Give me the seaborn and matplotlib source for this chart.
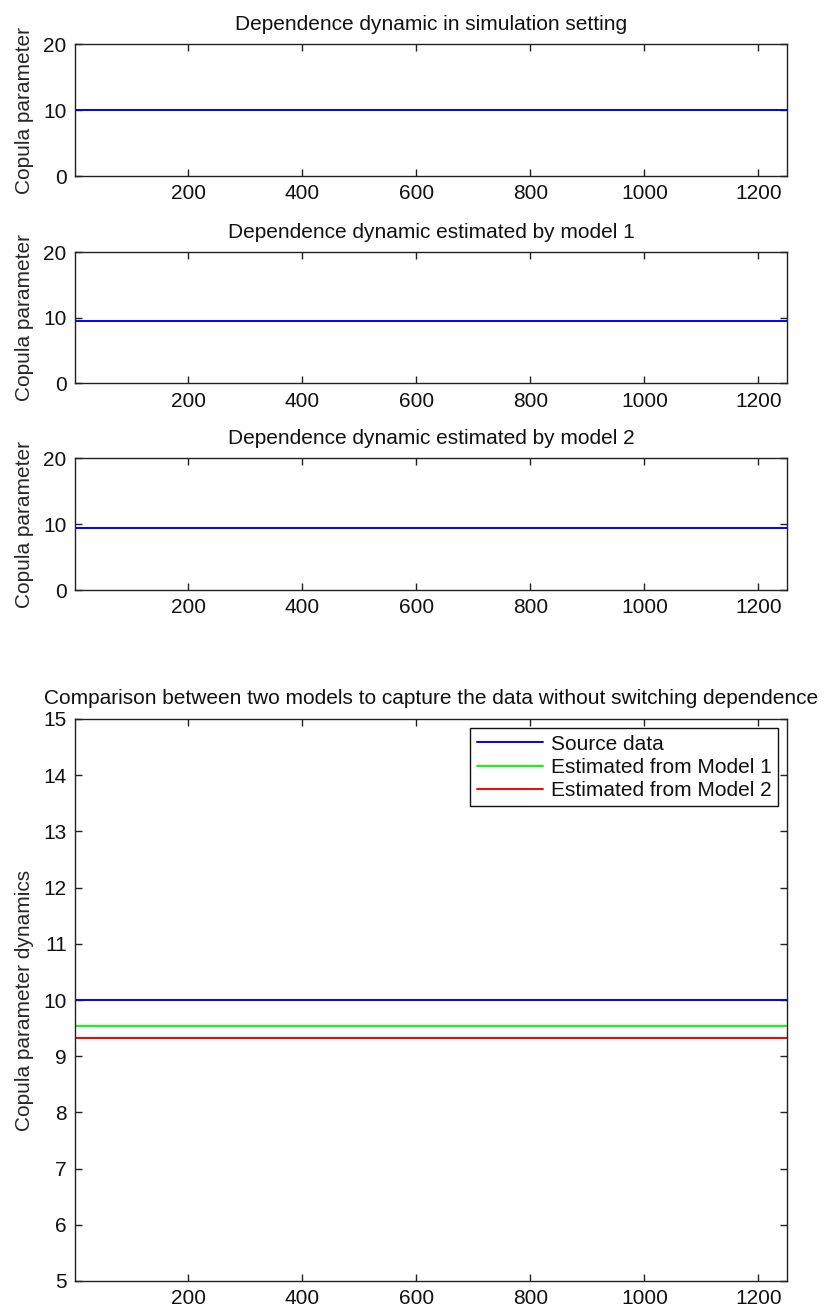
import numpy as np
import pandas as pd
import matplotlib
matplotlib.use("Agg")
import matplotlib.pyplot as plt
import seaborn as sns

# ---- data ----
x_range = [1, 1250]
source_level = [10.0, 10.0]
model1_level = [9.53, 9.53]
model2_level = [9.33, 9.33]

top_titles = ["Dependence dynamic in simulation setting",
              "Dependence dynamic estimated by model 1",
              "Dependence dynamic estimated by model 2"]
top_series = [source_level, model1_level, model2_level]
top_yticks = [0, 10, 20]
xticks = [200, 400, 600, 800, 1000, 1200]
bottom_yticks = [5, 6, 7, 8, 9, 10, 11, 12, 13, 14, 15]
legend_labels = ["Source data", "Estimated from Model 1", "Estimated from Model 2"]
bottom_title = "Comparison between two models to capture the data without switching dependence"

FS = 15

sns.set_style("ticks")
plt.rcParams['font.family'] = ['Liberation Sans', 'DejaVu Sans']
plt.rcParams['font.size'] = FS
plt.rcParams['axes.linewidth'] = 1.0
plt.rcParams['xtick.direction'] = 'in'
plt.rcParams['ytick.direction'] = 'in'
plt.rcParams['xtick.major.size'] = 5
plt.rcParams['ytick.major.size'] = 5
plt.rcParams['text.color'] = '#111111'

W, H = 827, 1310
fig = plt.figure(figsize=(W / 100, H / 100), dpi=100)

def add_axes(left, right, top, bottom):
    return fig.add_axes([left / W, 1 - bottom / H, (right - left) / W, (bottom - top) / H])

def style_ax(ax):
    for s in ax.spines.values():
        s.set_visible(True)
        s.set_color('#222222')
    ax.tick_params(which='both', top=True, right=True, labeltop=False, labelright=False,
                   colors='#222222', labelcolor='#111111', labelsize=FS, pad=6, width=1)
    ax.grid(False)

top_boxes = [(44, 176), (252, 383.5), (458, 590)]
for (t, b), title, vals in zip(top_boxes, top_titles, top_series):
    ax = add_axes(75, 787, t, b)
    df = pd.DataFrame({"x": x_range, "y": vals})
    sns.lineplot(data=df, x="x", y="y", ax=ax, color="#0000ff", linewidth=1.4)
    ax.set_xlim(x_range[0], x_range[1])
    ax.set_ylim(0, 20)
    ax.set_yticks(top_yticks)
    ax.set_xticks(xticks)
    ax.set_xlabel("")
    ax.set_ylabel("Copula parameter", fontsize=FS, labelpad=7)
    ax.set_title(title, fontsize=FS, pad=10)
    style_ax(ax)

ax4 = add_axes(75, 787, 719, 1281)
long_df = pd.DataFrame({
    "x": x_range * 3,
    "y": source_level + model1_level + model2_level,
    "series": [legend_labels[0]] * 2 + [legend_labels[1]] * 2 + [legend_labels[2]] * 2,
})
sns.lineplot(data=long_df, x="x", y="y", hue="series", hue_order=legend_labels,
             palette=["#0000ff", "#00ff00", "#ff0000"], linewidth=1.4, ax=ax4)
ax4.set_xlim(x_range[0], x_range[1])
ax4.set_ylim(5, 15)
ax4.set_yticks(bottom_yticks)
ax4.set_xticks(xticks)
ax4.set_xlabel("")
ax4.set_ylabel("Copula parameter dynamics", fontsize=FS, labelpad=7)
ax4.set_title(bottom_title, fontsize=FS, pad=11)
style_ax(ax4)
leg = ax4.legend(loc="upper right", frameon=True, fancybox=False, shadow=False,
                 fontsize=FS, borderaxespad=0.45, handlelength=3.2, handletextpad=0.35,
                 labelspacing=0.2, borderpad=0.3)
leg.get_frame().set_edgecolor('#111111')
leg.get_frame().set_linewidth(1.0)
leg.get_frame().set_alpha(1)

fig.savefig("out.png", dpi=100)
